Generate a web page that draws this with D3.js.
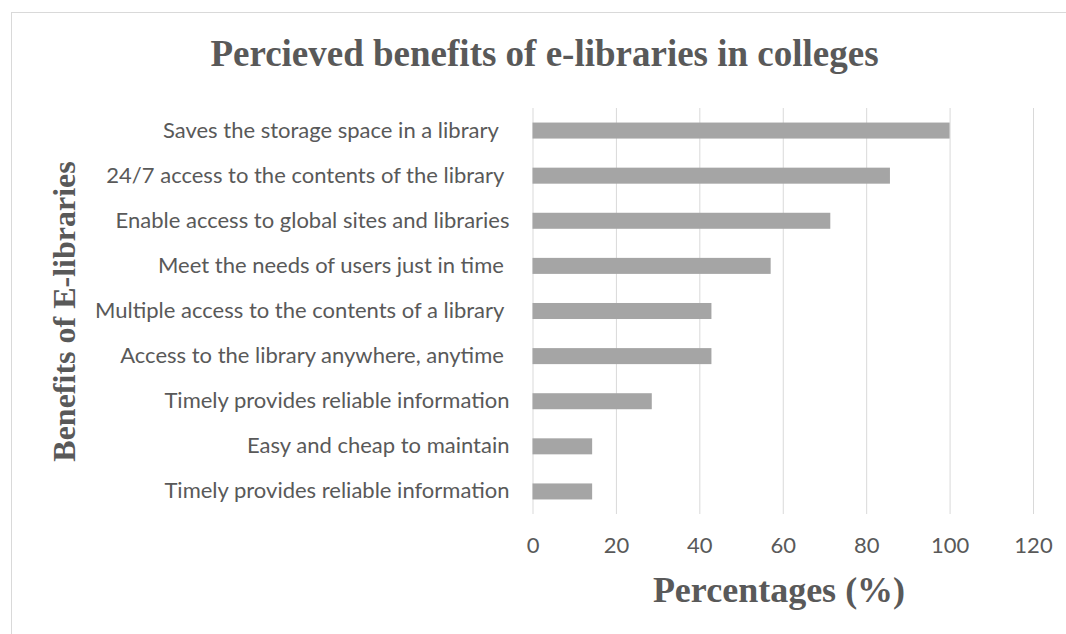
<!DOCTYPE html>
<meta charset="utf-8">
<html>

<head>
  <title>Percieved benefits of e-libraries in colleges</title>
  <script src="https://d3js.org/d3.v7.min.js"></script>
  <style>
    body { margin: 0; background: #fff; }
    text { white-space: pre; }
  </style>
</head>

<body>
  <div id="my_dataviz"></div>
</body>
<script type="text/javascript">

  // benefits, top to bottom as in the chart
  var categories = [
    "Saves the storage space in a library  ",
    "24/7 access to the contents of the library ",
    "Enable access to global sites and libraries",
    "Meet the needs of users just in time ",
    "Multiple access to the contents of a library ",
    "Access to the library anywhere, anytime ",
    "Timely provides reliable information",
    "Easy and cheap to maintain",
    "Timely provides reliable information"
  ];
  var percentages = [100, 85.7, 71.4, 57.1, 42.9, 42.9, 28.6, 14.3, 14.3];
  var tickValues = [0, 20, 40, 60, 80, 100, 120];

  var W = 1066, H = 634;
  var margin = { top: 108, right: 33, bottom: 120, left: 532.5 },
    width = W - margin.left - margin.right,
    height = 514 - margin.top;

  var svg = d3.select("#my_dataviz")
    .append("svg")
    .attr("width", W)
    .attr("height", H);

  // outer chart border
  svg.append("rect")
    .attr("x", 11.5).attr("y", 12.5)
    .attr("width", W).attr("height", H)
    .attr("fill", "none")
    .attr("stroke", "#d9d9d9");

  svg.append("text")
    .attr("x", 544.5).attr("y", 65.5)
    .attr("text-anchor", "middle")
    .style("font-family", "'Liberation Serif', 'Times New Roman', serif")
    .style("font-weight", "bold")
    .style("font-size", "37px")
    .attr("fill", "#595959")
    .text("Percieved benefits of e-libraries in colleges");

  var g = svg.append("g")
    .attr("transform", "translate(" + margin.left + "," + margin.top + ")");

  var x = d3.scaleLinear()
    .domain([0, 120])
    .range([0, width]);

  var y = d3.scaleBand()
    .domain(d3.range(categories.length))
    .range([0, height])
    .paddingInner(0.645)
    .paddingOuter(0.3225);

  // vertical gridlines
  g.append("g")
    .call(d3.axisBottom(x).tickValues(tickValues).tickSize(height).tickFormat(""))
    .call(function (s) {
      s.select(".domain").remove();
      s.selectAll("line").attr("stroke", "#d9d9d9");
    });

  // tick labels
  g.append("g")
    .attr("transform", "translate(0," + height + ")")
    .call(d3.axisBottom(x).tickValues(tickValues).tickSize(0))
    .call(function (s) {
      s.select(".domain").remove();
      s.selectAll("text")
        .attr("y", 553 - 514)
        .attr("dy", null)
        .attr("fill", "#595959")
        .style("font-family", "Lato, 'Open Sans', sans-serif")
        .style("font-size", "22px");
    });

  // category labels
  g.append("g")
    .call(d3.axisLeft(y).tickSize(0).tickPadding(23).tickFormat(function (i) { return categories[i]; }))
    .call(function (s) {
      s.select(".domain").remove();
      s.selectAll("text")
        .attr("fill", "#595959")
        .style("font-family", "Lato, 'Open Sans', sans-serif")
        .style("font-size", "22px");
    });

  g.selectAll("rect.bar")
    .data(percentages)
    .enter()
    .append("rect")
    .attr("class", "bar")
    .attr("x", x(0))
    .attr("y", function (d, i) { return y(i); })
    .attr("width", function (d) { return x(d); })
    .attr("height", y.bandwidth())
    .attr("fill", "#a5a5a5");

  svg.append("text")
    .attr("x", 779).attr("y", 602)
    .attr("text-anchor", "middle")
    .style("font-family", "'Liberation Serif', 'Times New Roman', serif")
    .style("font-weight", "bold")
    .style("font-size", "36px")
    .attr("fill", "#595959")
    .text("Percentages (%)");

  svg.append("text")
    .attr("transform", "translate(75,311.5) rotate(-90)")
    .attr("text-anchor", "middle")
    .style("font-family", "'Liberation Serif', 'Times New Roman', serif")
    .style("font-weight", "bold")
    .style("font-size", "32px")
    .attr("fill", "#595959")
    .text("Benefits of E-libraries");

</script>

</html>
